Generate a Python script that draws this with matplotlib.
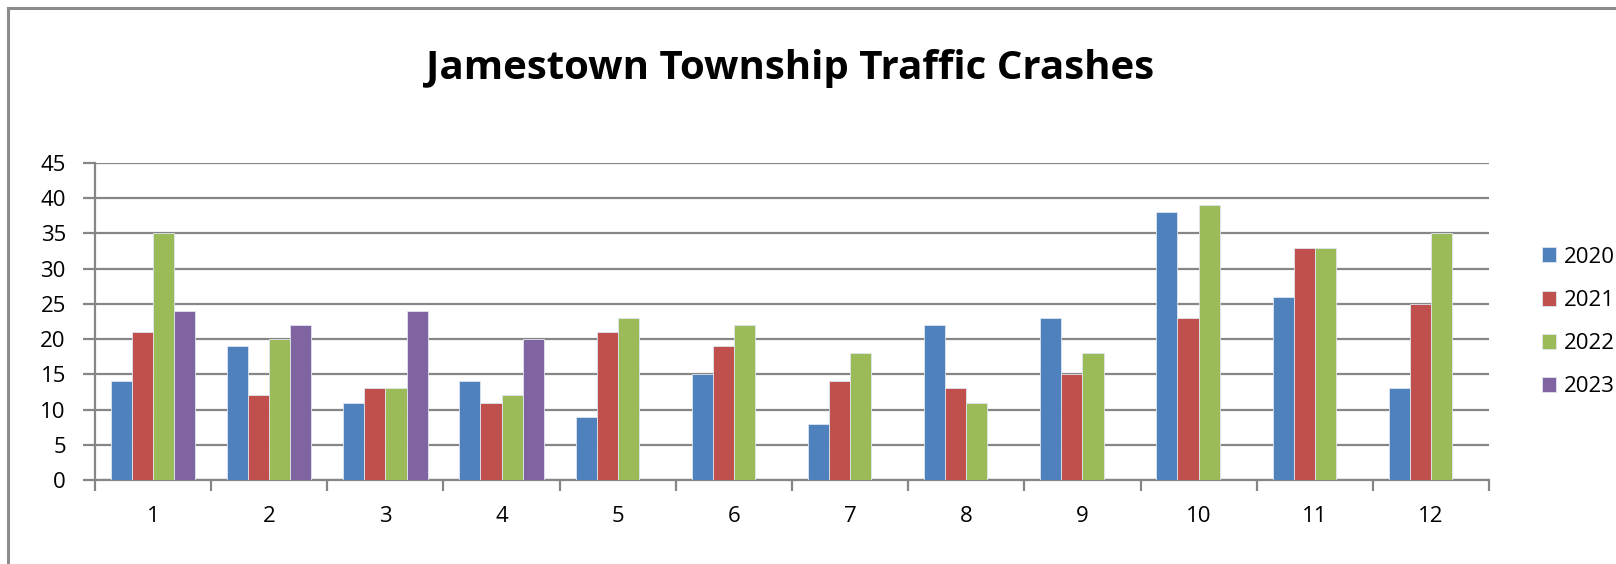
import numpy as np
import matplotlib.pyplot as plt
from matplotlib.lines import Line2D

# Monthly crash counts
months = [str(m) for m in range(1, 13)]
years = ["2020", "2021", "2022", "2023"]
crashes_2020 = [14, 19, 11, 14, 9, 15, 8, 22, 23, 38, 26, 13]
crashes_2021 = [21, 12, 13, 11, 21, 19, 14, 13, 15, 23, 33, 25]
crashes_2022 = [35, 20, 13, 12, 23, 22, 18, 11, 18, 39, 33, 35]
crashes_2023 = [24, 22, 24, 20, np.nan, np.nan, np.nan, np.nan, np.nan, np.nan, np.nan, np.nan]
colors = ["#4F81BD", "#C0504D", "#9BBB59", "#8064A2"]

plt.rcParams["font.family"] = ["Open Sans", "DejaVu Sans"]

fig = plt.figure(figsize=(16.16, 5.64), dpi=100)
ax = fig.add_axes([95 / 1616, 1 - 480 / 564, (1489 - 95) / 1616, (480 - 163) / 564])

series = [crashes_2020, crashes_2021, crashes_2022, crashes_2023]
x = np.arange(len(months))
w = 1 / 5.5
for i, (vals, c, lab) in enumerate(zip(series, colors, years)):
    ax.bar(x + (i - 1.5) * w, vals, width=w, color=c, label=lab,
           edgecolor="#dfe6ee", linewidth=0.6, zorder=3)

ax.set_xlim(-0.5, len(months) - 0.5)
ax.set_ylim(0, 45)
ax.set_yticks(range(0, 50, 5))
ax.grid(axis="y", color="#868686", linewidth=1.6, zorder=0)

ax.set_xticks(x)
ax.set_xticklabels(months)
ax.set_xticks(np.arange(-0.5, len(months)), minor=True)
ax.tick_params(axis="x", which="major", length=0, labelsize=16, pad=19)
ax.tick_params(axis="x", which="minor", length=8, width=1.6, color="#868686")
ax.tick_params(axis="y", length=9, width=1.6, color="#868686", labelsize=16, pad=12)

for s in ["top", "right"]:
    ax.spines[s].set_visible(False)
for s in ["left", "bottom"]:
    ax.spines[s].set_color("#868686")
    ax.spines[s].set_linewidth(1.6)

fig.text(0.489, 1 - 69 / 564, "Jamestown Township Traffic Crashes",
         ha="center", va="center", fontsize=29, fontweight="bold")

fig.legend(loc="center left", bbox_to_anchor=(1522 / 1616, 1 - 322 / 564),
           frameon=False, fontsize=16, handlelength=0.65, handleheight=0.65,
           handletextpad=0.35, labelspacing=1.0)

# chart border (top and left)
fig.add_artist(Line2D([8 / 1616, 1], [1 - 8 / 564, 1 - 8 / 564], color="#8c8c8c", linewidth=2.2))
fig.add_artist(Line2D([8 / 1616, 8 / 1616], [0, 1 - 8 / 564], color="#8c8c8c", linewidth=2.2))

fig.savefig("out.png", dpi=100)
